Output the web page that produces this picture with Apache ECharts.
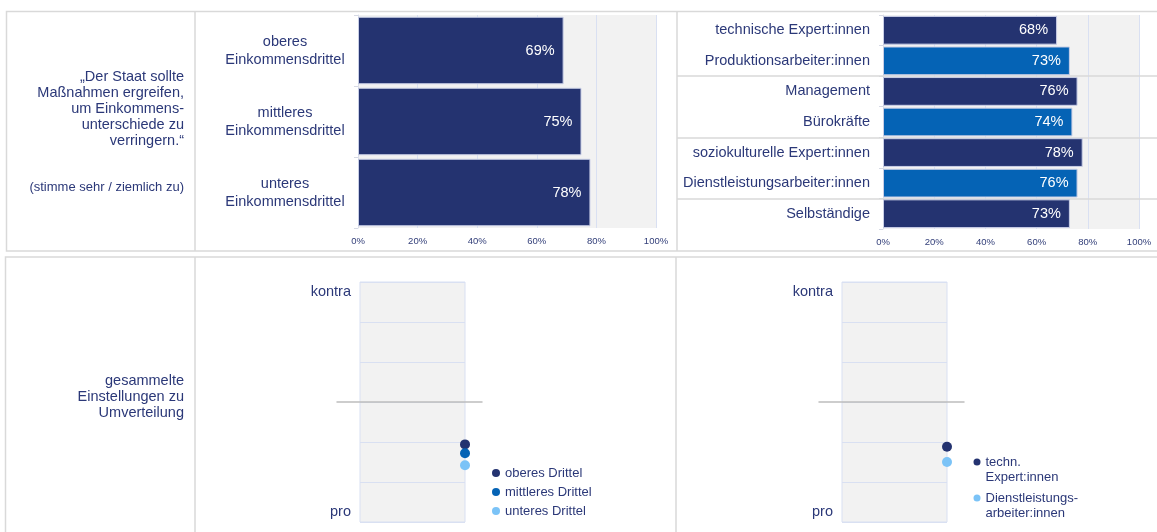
<!DOCTYPE html>
<html><head><meta charset="utf-8">
<script src="https://cdn.jsdelivr.net/npm/echarts@6/dist/echarts.min.js"></script>
<style>html,body{margin:0;padding:0;background:#fff}#c{width:1157px;height:532px}</style>
</head><body><div id="c"></div>
<script>
// ---- data ----
const incomeCategories = ['oberes\nEinkommensdrittel', 'mittleres\nEinkommensdrittel', 'unteres\nEinkommensdrittel'];
const incomeValues = [69, 75, 78];
const occupationCategories = ['technische Expert:innen', 'Produktionsarbeiter:innen', 'Management', 'Bürokräfte', 'soziokulturelle Expert:innen', 'Dienstleistungsarbeiter:innen', 'Selbständige'];
const occupationValues = [68, 73, 76, 74, 78, 76, 73];
const occupationGroupSize = 2; // rows are grouped in pairs by separator lines
const percentTicks = [0, 20, 40, 60, 80, 100];
const incomeGroups = ['oberes Drittel', 'mittleres Drittel', 'unteres Drittel'];
const incomeIndex = [-1.06, -1.28, -1.58];
const occupationGroups = ['techn.\nExpert:innen', 'Dienstleistungs-\narbeiter:innen'];
const occupationIndex = [-1.12, -1.5];
const scaleEnds = { min: -3, max: 3, minLabel: 'pro', maxLabel: 'kontra' };
const questionText = '„Der Staat sollte\nMaßnahmen ergreifen,\num Einkommens-\nunterschiede zu\nverringern.“';
const answerText = '(stimme sehr / ziemlich zu)';
const indexText = 'gesammelte\nEinstellungen zu\nUmverteilung';

// ---- style ----
const FONT = '"Liberation Sans", Arial, Helvetica, sans-serif';
const TXT = '#2b3878';
const NAVY = '#243370';
const MID = '#0563b5';
const LIGHT = '#7bc3f7';
const GRIDC = '#d9e0f2';
const BORDER = '#d9d9d9';

const chart = echarts.init(document.getElementById('c'));

const pctAxis = (gi) => ({
  gridIndex: gi, type: 'value', min: percentTicks[0], max: percentTicks[percentTicks.length - 1],
  interval: percentTicks[1] - percentTicks[0],
  axisLine: { show: false }, axisTick: { show: false },
  axisLabel: { formatter: '{value}%', fontSize: 9.5, color: '#34407a', fontFamily: FONT, margin: 8 },
  splitLine: { show: true, lineStyle: { color: GRIDC, width: 1 } }
});
const scaleY = (gi) => ({
  gridIndex: gi, type: 'value', min: scaleEnds.min, max: scaleEnds.max, interval: 1,
  axisLine: { show: false }, axisTick: { show: false },
  axisLabel: {
    fontSize: 14.5, color: TXT, fontFamily: FONT, margin: 9, padding: [2, 0, 3, 0],
    formatter: (v) => v === scaleEnds.max ? scaleEnds.maxLabel : (v === scaleEnds.min ? scaleEnds.minLabel : ''),
    verticalAlignMaxLabel: 'top', verticalAlignMinLabel: 'bottom'
  },
  splitLine: { show: true, lineStyle: { color: GRIDC, width: 1 } }
});
const unitX = (gi) => ({ gridIndex: gi, type: 'value', min: 0, max: 1, show: false });
const zeroLineX = (gi) => ({
  gridIndex: gi, type: 'value', min: 0, max: 1, z: 5,
  axisLine: { show: true, onZero: true, lineStyle: { color: '#bdbdbd', width: 1.5 } },
  axisTick: { show: false }, axisLabel: { show: false }, splitLine: { show: false }
});
const zeroLineY = (gi) => ({
  gridIndex: gi, type: 'value', min: scaleEnds.min, max: scaleEnds.max,
  axisLine: { show: false }, axisTick: { show: false }, axisLabel: { show: false }, splitLine: { show: false }
});
const boxGrid = (left, width) => ({ left, top: 282, width, height: 240, show: true, backgroundColor: '#f2f2f2', borderColor: GRIDC, borderWidth: 1, outerBoundsMode: 'none', containLabel: false });

const option = {
  animation: false,
  textStyle: { fontFamily: FONT },
  grid: [
    { left: 358, top: 15, width: 298, height: 213, show: true, backgroundColor: '#f2f2f2', borderWidth: 0, outerBoundsMode: 'none', containLabel: false },
    { left: 883, top: 15, width: 256, height: 214, show: true, backgroundColor: '#f2f2f2', borderWidth: 0, outerBoundsMode: 'none', containLabel: false },
    { left: 677, top: 15, width: 482, height: 214, show: false, outerBoundsMode: 'none', containLabel: false },
    boxGrid(360, 105),
    { left: 337, top: 282, width: 145, height: 240, show: false, outerBoundsMode: 'none', containLabel: false },
    boxGrid(842, 105),
    { left: 819, top: 282, width: 145, height: 240, show: false, outerBoundsMode: 'none', containLabel: false }
  ],
  xAxis: [pctAxis(0), pctAxis(1), { gridIndex: 2, type: 'value', show: false }, unitX(3), zeroLineX(4), unitX(5), zeroLineX(6)],
  yAxis: [
    {
      gridIndex: 0, type: 'category', data: incomeCategories, inverse: true,
      axisLine: { show: true, lineStyle: { color: '#dcdfe9', width: 1 } },
      axisTick: { show: true, length: 4, lineStyle: { color: '#d6d9e4' } },
      axisLabel: { align: 'center', margin: 73, fontSize: 14.5, lineHeight: 18, color: TXT, fontFamily: FONT }
    },
    {
      gridIndex: 1, type: 'category', data: occupationCategories, inverse: true,
      axisLine: { show: true, lineStyle: { color: '#dcdfe9', width: 1 } },
      axisTick: { show: true, length: 4, lineStyle: { color: '#d6d9e4' } },
      axisLabel: { margin: 13, fontSize: 14.5, color: TXT, fontFamily: FONT }
    },
    {
      gridIndex: 2, type: 'value', min: 0, max: occupationCategories.length, interval: occupationGroupSize,
      inverse: true, z: 1,
      axisLine: { show: false }, axisTick: { show: false }, axisLabel: { show: false },
      splitLine: { show: true, showMinLine: false, showMaxLine: false, lineStyle: { color: BORDER, width: 1.5 } }
    },
    scaleY(3), zeroLineY(4), scaleY(5), zeroLineY(6)
  ],
  legend: [
    {
      data: incomeGroups, orient: 'vertical', left: 492, top: 465.5, padding: 0,
      icon: 'circle', itemWidth: 8, itemHeight: 8, itemGap: 4,
      itemStyle: { opacity: 1 },
      textStyle: { fontSize: 13, lineHeight: 15, color: TXT, fontFamily: FONT }
    },
    {
      data: [occupationGroups[0]], orient: 'vertical', left: 973.5, top: 438.75, padding: 0,
      icon: 'circle', itemWidth: 7, itemHeight: 7, itemStyle: { opacity: 1 },
      formatter: (name) => '\n' + name,
      textStyle: { fontSize: 13, lineHeight: 15.5, color: TXT, fontFamily: FONT }
    },
    {
      data: [occupationGroups[1]], orient: 'vertical', left: 973.5, top: 474.75, padding: 0,
      icon: 'circle', itemWidth: 7, itemHeight: 7, itemStyle: { opacity: 1 },
      formatter: (name) => '\n' + name,
      textStyle: { fontSize: 13, lineHeight: 15.5, color: TXT, fontFamily: FONT }
    }
  ],
  series: [
    {
      type: 'bar', xAxisIndex: 0, yAxisIndex: 0, data: incomeValues, barWidth: '95%',
      itemStyle: { color: NAVY, borderColor: '#c8cee6', borderWidth: 1 },
      label: { show: true, position: 'insideRight', distance: 9, formatter: '{c}%', color: '#ffffff', fontSize: 14.5, fontFamily: FONT }
    },
    {
      type: 'bar', xAxisIndex: 1, yAxisIndex: 1, barWidth: '94%',
      data: occupationValues.map((v, i) => ({ value: v, itemStyle: { color: i % 2 ? MID : NAVY } })),
      itemStyle: { borderColor: '#c8cee6', borderWidth: 1 },
      label: { show: true, position: 'insideRight', distance: 9, formatter: '{c}%', color: '#ffffff', fontSize: 14.5, fontFamily: FONT }
    },
    ...incomeGroups.map((name, i) => ({
      type: 'scatter', name, xAxisIndex: 3, yAxisIndex: 3, clip: false, z: 6,
      symbol: 'circle', symbolSize: 10, data: [[1, incomeIndex[i]]],
      itemStyle: { color: [NAVY, MID, LIGHT][i], opacity: 1 }
    })),
    ...occupationGroups.map((name, i) => ({
      type: 'scatter', name, xAxisIndex: 5, yAxisIndex: 5, clip: false, z: 6,
      symbol: 'circle', symbolSize: 10, data: [[1, occupationIndex[i]]],
      itemStyle: { color: [NAVY, LIGHT][i], opacity: 1 }
    }))
  ],
  graphic: [
    { type: 'rect', silent: true, z: -1, shape: { x: 6.5, y: 11.5, width: 1160, height: 239.5 }, style: { fill: 'none', stroke: BORDER, lineWidth: 1.5 } },
    { type: 'line', silent: true, shape: { x1: 195, y1: 11.5, x2: 195, y2: 251 }, style: { stroke: BORDER, lineWidth: 1.5 } },
    { type: 'line', silent: true, shape: { x1: 677, y1: 11.5, x2: 677, y2: 251 }, style: { stroke: BORDER, lineWidth: 1.5 } },
    { type: 'rect', silent: true, z: -1, shape: { x: 5.5, y: 257, width: 1160, height: 300 }, style: { fill: 'none', stroke: BORDER, lineWidth: 1.5 } },
    { type: 'line', silent: true, shape: { x1: 195, y1: 257, x2: 195, y2: 540 }, style: { stroke: BORDER, lineWidth: 1.5 } },
    { type: 'line', silent: true, shape: { x1: 676, y1: 257, x2: 676, y2: 540 }, style: { stroke: BORDER, lineWidth: 1.5 } },
    { type: 'text', silent: true, x: 184, y: 108.5, style: { text: questionText, font: '14.5px ' + FONT, lineHeight: 16, fill: TXT, align: 'right', verticalAlign: 'middle', textAlign: 'right', textVerticalAlign: 'middle' } },
    { type: 'text', silent: true, x: 184, y: 187, style: { text: answerText, font: '13px ' + FONT, fill: TXT, align: 'right', verticalAlign: 'middle', textAlign: 'right', textVerticalAlign: 'middle' } },
    { type: 'text', silent: true, x: 184, y: 396.5, style: { text: indexText, font: '14.5px ' + FONT, lineHeight: 16, fill: TXT, align: 'right', verticalAlign: 'middle', textAlign: 'right', textVerticalAlign: 'middle' } }
  ]
};
chart.setOption(option);
</script>
</body></html>
